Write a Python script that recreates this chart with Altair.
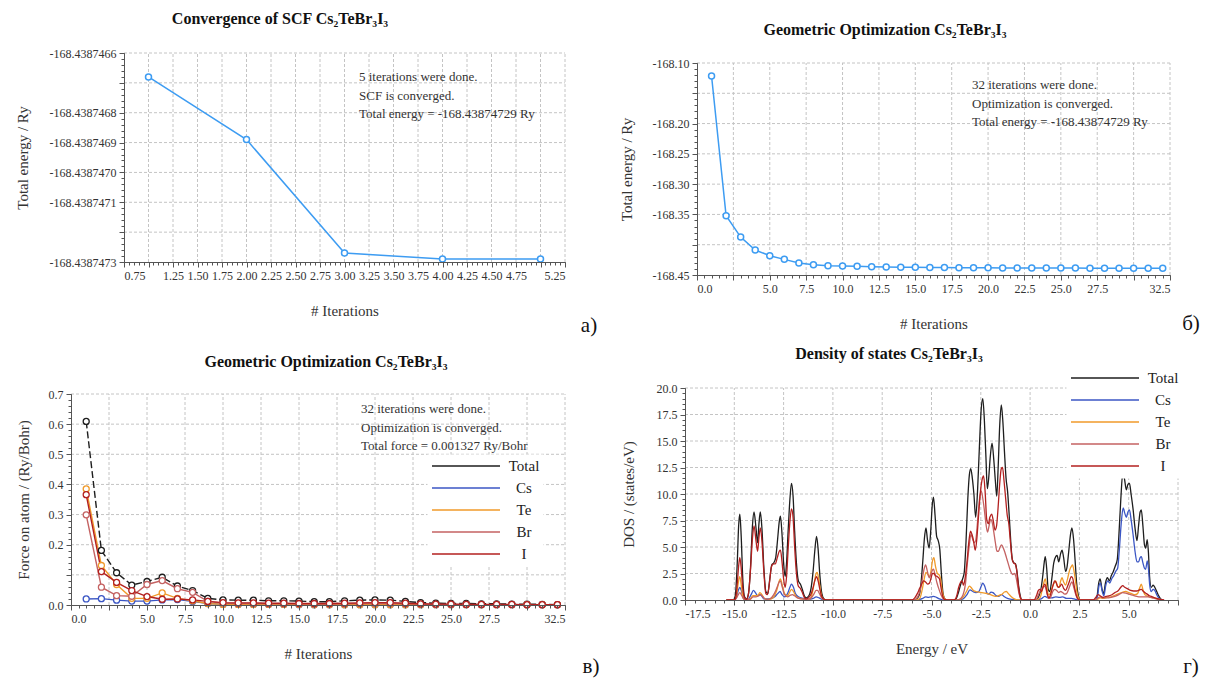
import altair as alt
import pandas as pd

FONT = "Liberation Serif"
INK = "#333333"
DARK = "#111111"
BLUE = "#3d9cf2"
GRID = "#c4c4c4"

SERIES = ["Total", "Cs", "Te", "Br", "I"]
SERIES_COLORS = ["#1e1e1e", "#3b56c4", "#f09a2a", "#c46262", "#b3201f"]
TOTAL_DASH = [7, 3]

# ---------------- panel а : SCF convergence ----------------
SCF_TITLE = "Convergence of SCF Cs₂TeBr₃I₃"
SCF_ITER = [1, 2, 3, 4, 5]
SCF_ENERGY = [-168.43874668, -168.43874689, -168.43874727, -168.43874729, -168.43874729]
SCF_X_TICKS = [0.75, 1.00, 1.25, 1.50, 1.75, 2.00, 2.25, 2.50, 2.75, 3.00,
               3.25, 3.50, 3.75, 4.00, 4.25, 4.50, 4.75, 5.00, 5.25]
SCF_X_HIDDEN = ["1.00", "5.00"]
SCF_Y_TICKS = [-168.4387466, -168.4387467, -168.4387468, -168.4387469,
               -168.4387470, -168.4387471, -168.4387472, -168.4387473]
SCF_Y_HIDDEN = ["-168.4387467", "-168.4387472"]
SCF_NOTE = ["5 iterations were done.", "SCF is converged.", "Total energy = -168.43874729 Ry"]

# ---------------- panel б : geometry optimisation, energy ----------------
OPT_TITLE = "Geometric Optimization Cs₂TeBr₃I₃"
OPT_ITER = [1, 2, 3, 4, 5, 6, 7, 8, 9, 10, 11, 12, 13, 14, 15, 16,
            17, 18, 19, 20, 21, 22, 23, 24, 25, 26, 27, 28, 29, 30, 31, 32]
OPT_ENERGY = [-168.1214, -168.3522, -168.3874, -168.4088, -168.4181, -168.4242,
              -168.4302, -168.4330, -168.4346, -168.4352, -168.4357, -168.4362,
              -168.4366, -168.4370, -168.4373, -168.4376, -168.4378, -168.4380,
              -168.4381, -168.4382, -168.4383, -168.4384, -168.4385, -168.43855,
              -168.4386, -168.43863, -168.43866, -168.43868, -168.4387, -168.43872,
              -168.43873, -168.43874729]
ITER_X_TICKS = [0.0, 2.5, 5.0, 7.5, 10.0, 12.5, 15.0, 17.5, 20.0, 22.5, 25.0, 27.5, 30.0, 32.5]
ITER_X_HIDDEN = ["2.5", "30.0"]
OPT_Y_TICKS = [-168.10, -168.15, -168.20, -168.25, -168.30, -168.35, -168.40, -168.45]
OPT_Y_HIDDEN = ["-168.15", "-168.40"]
OPT_NOTE = ["32 iterations were done.", "Optimization is converged.", "Total energy = -168.43874729 Ry"]

# ---------------- panel в : forces ----------------
FORCE_ITER = OPT_ITER
FORCE_TOTAL = [0.609, 0.181, 0.107, 0.066, 0.078, 0.092, 0.063, 0.048, 0.022, 0.017, 0.016,
               0.016, 0.014, 0.014, 0.013, 0.011, 0.011, 0.014, 0.016, 0.017, 0.016, 0.012,
               0.008, 0.006, 0.005, 0.005, 0.004, 0.004, 0.003, 0.003, 0.002, 0.0013]
FORCE_CS = [0.020, 0.021, 0.016, 0.013, 0.013, 0.017, 0.018, 0.012, 0.005, 0.002, 0.002,
            0.002, 0.002, 0.002, 0.001, 0.001, 0.001, 0.001, 0.001, 0.001, 0.001, 0.001,
            0.001, 0.001, 0.001, 0.001, 0.001, 0.001, 0.001, 0.0005, 0.0005, 0.0005]
FORCE_TE = [0.385, 0.131, 0.068, 0.022, 0.022, 0.040, 0.022, 0.014, 0.005, 0.002, 0.002,
            0.002, 0.002, 0.002, 0.002, 0.001, 0.001, 0.001, 0.001, 0.001, 0.001, 0.001,
            0.001, 0.001, 0.001, 0.001, 0.001, 0.001, 0.001, 0.001, 0.001, 0.001]
FORCE_BR = [0.299, 0.059, 0.031, 0.029, 0.068, 0.081, 0.054, 0.042, 0.012, 0.006, 0.005,
            0.005, 0.004, 0.004, 0.004, 0.003, 0.003, 0.004, 0.005, 0.005, 0.005, 0.004,
            0.003, 0.002, 0.002, 0.002, 0.001, 0.001, 0.001, 0.001, 0.001, 0.001]
FORCE_I = [0.366, 0.111, 0.075, 0.048, 0.028, 0.019, 0.020, 0.017, 0.012, 0.008, 0.007,
           0.007, 0.006, 0.006, 0.005, 0.005, 0.005, 0.006, 0.007, 0.008, 0.008, 0.006,
           0.004, 0.003, 0.003, 0.002, 0.002, 0.002, 0.002, 0.001, 0.001, 0.001]
FORCE_Y_TICKS = [0.0, 0.1, 0.2, 0.3, 0.4, 0.5, 0.6, 0.7]
FORCE_Y_HIDDEN = ["0.1"]
FORCE_NOTE = ["32 iterations were done.", "Optimization is converged.", "Total force = 0.001327 Ry/Bohr"]

# ---------------- panel г : density of states ----------------
DOS_TITLE = "Density of states Cs₂TeBr₃I₃"
DOS_TOTAL = [(-15.4, 0), (-15.05, 0), (-14.95, 0.4), (-14.85, 3.5), (-14.78, 7.0), (-14.72, 8.1),
             (-14.65, 6.0), (-14.57, 2.0), (-14.48, 0.3), (-14.38, 0.1), (-14.28, 0.6), (-14.18, 3.0),
             (-14.08, 7.0), (-14.0, 8.3), (-13.9, 6.8), (-13.82, 5.4), (-13.75, 7.2), (-13.68, 8.3),
             (-13.6, 6.8), (-13.5, 3.0), (-13.4, 0.8), (-13.3, 0.6), (-13.2, 2.0), (-13.1, 3.3),
             (-13.0, 3.5), (-12.9, 4.0), (-12.8, 5.8), (-12.72, 7.4), (-12.66, 7.9), (-12.58, 6.2),
             (-12.5, 3.5), (-12.42, 2.2), (-12.35, 3.5), (-12.27, 6.5), (-12.18, 9.5), (-12.1, 11.0),
             (-12.02, 9.8), (-11.94, 6.5), (-11.85, 3.5), (-11.75, 1.8), (-11.65, 1.5), (-11.55, 1.0),
             (-11.45, 0.4), (-11.35, 0.2), (-11.22, 0.4), (-11.1, 1.2), (-11.0, 2.8), (-10.92, 4.6),
             (-10.83, 6.0), (-10.75, 4.8), (-10.66, 2.3), (-10.56, 0.6), (-10.45, 0.1), (-10.3, 0),
             (-5.9, 0), (-5.7, 0.2), (-5.6, 0.6), (-5.52, 1.8), (-5.44, 3.7), (-5.36, 5.8), (-5.28, 6.8),
             (-5.2, 5.6), (-5.12, 4.9), (-5.04, 6.5), (-4.96, 9.0), (-4.9, 9.7), (-4.82, 8.0),
             (-4.74, 6.0), (-4.66, 5.6), (-4.58, 4.8), (-4.5, 2.5), (-4.42, 0.7), (-4.32, 0.1),
             (-4.2, 0), (-3.8, 0), (-3.65, 0.6), (-3.5, 1.6), (-3.42, 2.0), (-3.34, 2.6), (-3.25, 5.5),
             (-3.16, 9.5), (-3.08, 11.8), (-3.01, 12.4), (-2.93, 11.5), (-2.85, 10.0), (-2.76, 7.8),
             (-2.66, 10.5), (-2.57, 14.5), (-2.48, 18.0), (-2.4, 19.0), (-2.32, 17.0), (-2.24, 13.5),
             (-2.17, 10.5), (-2.1, 11.5), (-2.02, 13.5), (-1.93, 14.8), (-1.84, 13.2), (-1.76, 11.2),
             (-1.69, 9.8), (-1.62, 12.5), (-1.54, 16.5), (-1.46, 18.4), (-1.38, 16.8), (-1.3, 14.0),
             (-1.22, 11.5), (-1.14, 10.2), (-1.06, 8.0), (-0.98, 5.5), (-0.9, 3.8), (-0.82, 3.5),
             (-0.74, 3.4), (-0.66, 2.6), (-0.58, 1.3), (-0.5, 0.4), (-0.4, 0), (0.3, 0), (0.45, 0.4),
             (0.55, 1.0), (0.65, 2.4), (0.72, 3.6), (0.77, 4.1), (0.84, 3.0), (0.92, 1.0), (1.0, 0.8),
             (1.1, 2.0), (1.2, 3.5), (1.3, 4.1), (1.37, 4.2), (1.45, 3.6), (1.55, 4.4), (1.62, 4.7),
             (1.7, 4.0), (1.8, 2.7), (1.88, 3.2), (1.96, 4.6), (2.05, 6.2), (2.12, 6.8), (2.2, 5.8),
             (2.28, 3.8), (2.36, 1.6), (2.45, 0.4), (2.55, 0), (3.3, 0), (3.4, 0.4), (3.48, 1.6),
             (3.55, 2.0), (3.65, 1.0), (3.73, 0.6), (3.82, 1.6), (3.92, 2.1), (4.02, 1.8), (4.12, 2.3),
             (4.22, 2.7), (4.32, 3.2), (4.42, 3.8), (4.5, 6.0), (4.6, 9.5), (4.7, 12.0), (4.78, 11.5),
             (4.88, 10.4), (4.96, 10.9), (5.04, 11.0), (5.12, 10.0), (5.22, 8.6), (5.32, 6.8),
             (5.42, 5.6), (5.5, 7.0), (5.58, 8.3), (5.64, 8.5), (5.72, 7.0), (5.8, 5.2), (5.86, 4.9),
             (5.94, 5.7), (6.0, 4.5), (6.06, 2.2), (6.14, 1.2), (6.24, 1.4), (6.32, 1.2), (6.42, 0.8),
             (6.52, 0.4), (6.62, 0.1), (6.75, 0)]
DOS_CS = [(-15.4, 0), (-15.0, 0), (-14.9, 0.2), (-14.8, 0.9), (-14.72, 1.2), (-14.63, 0.8),
          (-14.52, 0.1), (-14.3, 0.05), (-14.15, 0.5), (-14.03, 0.9), (-13.93, 0.7), (-13.82, 0.4),
          (-13.72, 0.5), (-13.62, 0.4), (-13.5, 0.1), (-13.2, 0.1), (-12.95, 0.3), (-12.8, 0.6),
          (-12.68, 0.8), (-12.58, 0.5), (-12.45, 0.3), (-12.3, 0.6), (-12.18, 1.2), (-12.1, 1.5),
          (-12.0, 1.2), (-11.9, 0.6), (-11.75, 0.3), (-11.5, 0.15), (-11.2, 0.05), (-11.0, 0.15),
          (-10.85, 0.3), (-10.7, 0.2), (-10.5, 0.02), (-10.3, 0), (-5.8, 0), (-5.6, 0.05),
          (-5.45, 0.15), (-5.3, 0.3), (-5.15, 0.25), (-5.0, 0.3), (-4.9, 0.35), (-4.75, 0.25),
          (-4.6, 0.1), (-4.45, 0.02), (-4.3, 0), (-3.6, 0), (-3.4, 0.1), (-3.2, 0.5), (-3.05, 0.95),
          (-2.9, 0.8), (-2.75, 0.7), (-2.6, 0.8), (-2.48, 1.3), (-2.4, 1.6), (-2.3, 1.3), (-2.2, 0.7),
          (-2.1, 0.55), (-1.98, 0.75), (-1.88, 0.7), (-1.75, 0.45), (-1.6, 0.35), (-1.45, 0.5),
          (-1.3, 0.3), (-1.15, 0.15), (-0.9, 0.05), (-0.6, 0), (0.3, 0), (0.55, 0.1), (0.75, 0.35),
          (0.9, 0.2), (1.1, 0.2), (1.3, 0.3), (1.5, 0.25), (1.65, 0.3), (1.85, 0.15), (2.1, 0.15),
          (2.3, 0.05), (2.5, 0), (3.3, 0), (3.42, 0.4), (3.5, 1.4), (3.56, 1.6), (3.66, 0.8),
          (3.74, 0.4), (3.84, 1.4), (3.94, 1.8), (4.04, 1.6), (4.14, 2.0), (4.24, 2.3), (4.34, 2.7),
          (4.44, 3.0), (4.52, 4.6), (4.62, 7.2), (4.72, 8.7), (4.8, 8.2), (4.88, 7.8), (4.96, 8.3),
          (5.04, 8.5), (5.12, 7.6), (5.22, 6.2), (5.32, 4.6), (5.42, 3.6), (5.5, 3.6), (5.58, 4.0),
          (5.64, 4.1), (5.72, 3.5), (5.8, 3.0), (5.86, 2.9), (5.94, 3.7), (6.0, 3.0), (6.06, 1.5),
          (6.14, 0.8), (6.24, 1.0), (6.32, 0.9), (6.42, 0.5), (6.52, 0.2), (6.62, 0.05), (6.75, 0)]
DOS_TE = [(-15.4, 0), (-15.0, 0), (-14.9, 0.3), (-14.8, 1.6), (-14.72, 2.2), (-14.64, 1.3),
          (-14.55, 0.2), (-14.4, 0), (-14.2, 0.1), (-14.05, 0.4), (-13.9, 0.4), (-13.78, 0.5),
          (-13.7, 0.7), (-13.6, 0.5), (-13.45, 0.1), (-13.2, 0.05), (-13.0, 0.3), (-12.85, 0.9),
          (-12.72, 1.8), (-12.66, 2.0), (-12.58, 1.5), (-12.45, 0.6), (-12.3, 0.4), (-12.18, 0.8),
          (-12.1, 1.0), (-12.0, 0.8), (-11.85, 0.3), (-11.6, 0.1), (-11.2, 0.05), (-11.05, 0.6),
          (-10.95, 1.6), (-10.85, 2.5), (-10.8, 2.6), (-10.72, 2.0), (-10.62, 0.8), (-10.5, 0.1),
          (-10.3, 0), (-5.8, 0), (-5.6, 0.15), (-5.48, 0.9), (-5.38, 1.9), (-5.28, 2.6), (-5.18, 2.4),
          (-5.1, 2.2), (-5.02, 2.8), (-4.95, 3.7), (-4.88, 4.0), (-4.8, 3.2), (-4.7, 2.5),
          (-4.62, 2.4), (-4.54, 2.0), (-4.46, 0.9), (-4.36, 0.2), (-4.25, 0), (-3.7, 0), (-3.5, 0.1),
          (-3.35, 0.4), (-3.2, 0.9), (-3.08, 1.3), (-3.0, 1.2), (-2.9, 0.95), (-2.75, 0.8),
          (-2.6, 0.75), (-2.45, 0.7), (-2.3, 0.65), (-2.15, 0.6), (-2.0, 0.5), (-1.85, 0.4),
          (-1.7, 0.35), (-1.55, 0.45), (-1.42, 0.55), (-1.3, 0.75), (-1.2, 0.8), (-1.1, 0.6),
          (-0.95, 0.3), (-0.8, 0.1), (-0.6, 0), (0.3, 0), (0.5, 0.2), (0.62, 1.0), (0.72, 1.8),
          (0.77, 2.0), (0.85, 1.2), (0.93, 0.5), (1.02, 0.6), (1.12, 1.2), (1.22, 1.6), (1.3, 1.8),
          (1.38, 1.3), (1.47, 1.2), (1.55, 1.8), (1.62, 2.1), (1.7, 1.7), (1.8, 1.4), (1.9, 2.0),
          (2.0, 2.8), (2.1, 3.2), (2.15, 3.3), (2.22, 2.8), (2.3, 1.8), (2.38, 0.7), (2.47, 0.15),
          (2.55, 0), (3.3, 0), (3.45, 0.1), (3.55, 0.2), (3.7, 0.15), (3.9, 0.25), (4.1, 0.3),
          (4.3, 0.45), (4.5, 0.6), (4.7, 0.75), (4.85, 0.8), (5.0, 0.7), (5.15, 0.6), (5.3, 0.5),
          (5.45, 0.6), (5.55, 1.1), (5.64, 1.5), (5.72, 1.0), (5.82, 0.5), (5.95, 0.35), (6.1, 0.25),
          (6.3, 0.2), (6.5, 0.1), (6.7, 0)]
DOS_BR = [(-15.4, 0), (-15.0, 0), (-14.9, 0.15), (-14.8, 0.5), (-14.72, 0.7), (-14.62, 0.4),
          (-14.5, 0.05), (-14.2, 0.05), (-14.05, 0.3), (-13.9, 0.3), (-13.75, 0.4), (-13.68, 0.5),
          (-13.55, 0.3), (-13.4, 0.05), (-13.2, 0.1), (-13.0, 0.5), (-12.85, 1.1), (-12.72, 1.7),
          (-12.66, 1.8), (-12.58, 1.3), (-12.45, 0.5), (-12.3, 0.3), (-12.15, 0.45), (-12.05, 0.5),
          (-11.95, 0.4), (-11.8, 0.2), (-11.6, 0.1), (-11.3, 0.05), (-11.1, 0.2), (-10.95, 0.6),
          (-10.85, 0.9), (-10.78, 0.9), (-10.68, 0.6), (-10.55, 0.15), (-10.4, 0), (-5.9, 0),
          (-5.7, 0.3), (-5.58, 0.9), (-5.48, 1.8), (-5.38, 2.9), (-5.3, 3.3), (-5.22, 2.8),
          (-5.12, 2.1), (-5.04, 2.4), (-4.96, 2.8), (-4.9, 2.9), (-4.82, 2.4), (-4.72, 1.6),
          (-4.62, 1.0), (-4.52, 0.5), (-4.42, 0.15), (-4.3, 0), (-3.7, 0), (-3.55, 0.1), (-3.4, 0.5),
          (-3.28, 1.5), (-3.18, 3.5), (-3.08, 5.2), (-3.0, 6.2), (-2.92, 5.8), (-2.84, 5.4),
          (-2.76, 5.6), (-2.66, 7.5), (-2.56, 9.6), (-2.48, 10.3), (-2.4, 9.6), (-2.32, 8.5),
          (-2.24, 7.2), (-2.16, 6.4), (-2.08, 7.0), (-2.0, 7.6), (-1.92, 7.3), (-1.84, 6.4),
          (-1.76, 5.4), (-1.68, 4.6), (-1.6, 4.6), (-1.52, 5.0), (-1.44, 5.2), (-1.36, 4.9),
          (-1.28, 4.5), (-1.2, 4.0), (-1.12, 3.5), (-1.04, 3.0), (-0.96, 2.6), (-0.88, 2.4),
          (-0.8, 2.5), (-0.72, 2.2), (-0.64, 1.4), (-0.56, 0.6), (-0.48, 0.15), (-0.38, 0), (0.3, 0),
          (0.4, 0.4), (0.5, 0.8), (0.6, 1.1), (0.7, 1.3), (0.78, 1.2), (0.86, 0.6), (0.95, 0.15),
          (1.05, 0.3), (1.15, 0.8), (1.25, 1.0), (1.35, 0.9), (1.45, 0.7), (1.55, 0.8), (1.65, 0.7),
          (1.75, 0.55), (1.85, 0.6), (1.95, 1.0), (2.05, 1.5), (2.12, 1.7), (2.2, 1.3), (2.3, 0.6),
          (2.4, 0.15), (2.5, 0), (3.3, 0), (3.45, 0.2), (3.55, 0.3), (3.7, 0.2), (3.9, 0.2),
          (4.1, 0.25), (4.3, 0.35), (4.5, 0.5), (4.7, 0.7), (4.85, 0.65), (5.0, 0.55), (5.2, 0.45),
          (5.4, 0.35), (5.6, 0.3), (5.8, 0.3), (6.0, 0.3), (6.2, 0.2), (6.4, 0.1), (6.6, 0.02),
          (6.75, 0)]
DOS_I = [(-15.4, 0), (-15.0, 0), (-14.92, 0.3), (-14.84, 1.8), (-14.77, 3.4), (-14.72, 4.0),
         (-14.66, 3.2), (-14.58, 1.3), (-14.48, 0.2), (-14.38, 0.05), (-14.28, 0.6), (-14.18, 2.8),
         (-14.08, 5.8), (-14.0, 7.0), (-13.9, 5.6), (-13.82, 4.6), (-13.75, 5.9), (-13.68, 6.8),
         (-13.6, 5.6), (-13.5, 2.6), (-13.4, 0.6), (-13.32, 0.5), (-13.22, 1.6), (-13.12, 3.1),
         (-13.02, 3.4), (-12.92, 3.4), (-12.82, 4.0), (-12.72, 4.6), (-12.66, 4.7), (-12.58, 3.6),
         (-12.5, 2.0), (-12.42, 1.2), (-12.35, 2.2), (-12.27, 4.8), (-12.18, 7.4), (-12.1, 8.6),
         (-12.02, 7.8), (-11.94, 5.0), (-11.85, 2.5), (-11.75, 1.3), (-11.65, 1.1), (-11.55, 0.7),
         (-11.45, 0.25), (-11.35, 0.1), (-11.22, 0.25), (-11.1, 0.6), (-11.0, 1.2), (-10.92, 1.8),
         (-10.83, 2.2), (-10.75, 1.8), (-10.66, 1.0), (-10.56, 0.3), (-10.45, 0.05), (-10.3, 0),
         (-6.0, 0), (-5.85, 0.2), (-5.72, 0.6), (-5.6, 1.1), (-5.5, 1.5), (-5.4, 1.8), (-5.3, 1.7),
         (-5.2, 1.5), (-5.1, 1.6), (-5.02, 2.1), (-4.95, 2.5), (-4.88, 2.5), (-4.8, 2.3), (-4.7, 2.2),
         (-4.6, 2.0), (-4.52, 1.2), (-4.44, 0.4), (-4.34, 0.05), (-4.2, 0), (-3.85, 0), (-3.72, 0.4),
         (-3.62, 1.2), (-3.52, 1.7), (-3.45, 1.8), (-3.38, 1.4), (-3.3, 2.0), (-3.2, 3.6), (-3.1, 5.6),
         (-3.02, 6.5), (-2.95, 6.2), (-2.87, 5.6), (-2.78, 4.7), (-2.7, 5.8), (-2.62, 7.8),
         (-2.52, 10.2), (-2.44, 11.3), (-2.36, 11.7), (-2.28, 10.2), (-2.2, 7.6), (-2.12, 7.2),
         (-2.04, 7.8), (-1.95, 8.1), (-1.86, 7.4), (-1.78, 6.6), (-1.7, 7.0), (-1.62, 8.8),
         (-1.54, 11.0), (-1.46, 12.4), (-1.4, 12.5), (-1.32, 11.2), (-1.24, 9.6), (-1.16, 8.0),
         (-1.08, 7.2), (-1.0, 5.5), (-0.92, 4.0), (-0.84, 3.5), (-0.76, 3.4), (-0.68, 2.8),
         (-0.6, 1.4), (-0.52, 0.4), (-0.42, 0), (0.2, 0), (0.32, 0.4), (0.42, 0.9), (0.5, 1.0),
         (0.58, 0.8), (0.66, 1.2), (0.74, 1.5), (0.8, 1.3), (0.88, 0.5), (0.96, 0.2), (1.05, 0.6),
         (1.15, 1.3), (1.25, 1.8), (1.33, 1.6), (1.42, 1.2), (1.52, 1.3), (1.6, 1.5), (1.7, 1.1),
         (1.8, 0.9), (1.9, 1.3), (2.0, 1.8), (2.08, 2.2), (2.15, 2.1), (2.25, 1.2), (2.35, 0.4),
         (2.45, 0.05), (2.55, 0), (3.2, 0), (3.35, 0.3), (3.45, 0.5), (3.55, 0.4), (3.7, 0.25),
         (3.85, 0.35), (4.0, 0.4), (4.15, 0.5), (4.3, 0.7), (4.45, 0.85), (4.6, 1.2), (4.7, 1.35),
         (4.8, 1.2), (4.95, 1.05), (5.1, 0.9), (5.25, 0.85), (5.4, 0.85), (5.55, 0.95), (5.64, 1.0),
         (5.75, 0.8), (5.9, 0.6), (6.05, 0.4), (6.2, 0.3), (6.4, 0.15), (6.6, 0.05), (6.8, 0)]
DOS_X_TICKS = [-17.5, -15.0, -12.5, -10.0, -7.5, -5.0, -2.5, 0.0, 2.5, 5.0, 7.5]
DOS_X_HIDDEN = ["7.5"]
DOS_Y_TICKS = [0.0, 2.5, 5.0, 7.5, 10.0, 12.5, 15.0, 17.5, 20.0]
DOS_Y_HIDDEN = []


# ---------------- helpers ----------------
def label_expr(hidden):
    fixed = "replace(datum.label, '\u2212', '-')"
    arr = "[" + ", ".join("'" + h + "'" for h in hidden) + "]"
    return "indexof(" + arr + ", " + fixed + ") >= 0 ? '' : " + fixed


AXIS_TEXT = dict(labelFont=FONT, labelFontSize=12, labelColor=INK, titleFont=FONT,
                 titleFontSize=15, titleFontWeight="normal", titleColor=INK)


def x_axis(values, fmt, hidden, title, title_x):
    return alt.Axis(orient="bottom", values=values, format=fmt, labelExpr=label_expr(hidden),
                    title=title, titleX=title_x, titleY=48, titleBaseline="middle",
                    titleAlign="center", grid=False, tickSize=5, zindex=1, **AXIS_TEXT)


def y_axis(values, fmt, hidden, title, title_x, title_y, offset):
    return alt.Axis(orient="left", values=values, format=fmt, labelExpr=label_expr(hidden),
                    title=title, titleX=title_x, titleY=title_y, titleAngle=270,
                    titleBaseline="middle", titleAlign="center", grid=False, tickSize=5,
                    offset=offset, zindex=1, **AXIS_TEXT)


def minor_axis(orient, values, offset=0):
    return alt.Axis(orient=orient, values=values, labels=False, grid=False, domain=False,
                    tickSize=3, title=None, offset=offset, zindex=1)


def steps(start, stop, step, nd):
    n = int(round((stop - start) / step))
    return [round(start + k * step, nd) for k in range(n + 1)]


def one_row():
    return pd.DataFrame({"k": [0]})


def text_layer(lines, x, y, size, weight="normal", align="left", color=INK, line_height=0):
    props = dict(font=FONT, fontSize=size, fontWeight=weight, align=align,
                 baseline="middle", color=color)
    if line_height:
        props["lineHeight"] = line_height
    return alt.Chart(one_row()).mark_text(**props).encode(
        x=alt.value(x), y=alt.value(y), text=alt.value(lines))


def grid_layers(xs, ys, xticks, yticks, xdom, ydom):
    vdf = pd.DataFrame({"t": [t for t in xticks if t != xdom[0]]})
    vdf["lo"], vdf["hi"] = ydom[0], ydom[1]
    hdf = pd.DataFrame({"t": [t for t in yticks if t != ydom[0]]})
    hdf["lo"], hdf["hi"] = xdom[0], xdom[1]
    style = dict(color=GRID, strokeDash=[3, 2], strokeWidth=1)
    v = alt.Chart(vdf).mark_rule(**style).encode(
        x=alt.X("t:Q", scale=xs, axis=None), y=alt.Y("lo:Q", scale=ys, axis=None), y2="hi:Q")
    h = alt.Chart(hdf).mark_rule(**style).encode(
        y=alt.Y("t:Q", scale=ys, axis=None), x=alt.X("lo:Q", scale=xs, axis=None), x2="hi:Q")
    return [v, h]


def legend(lx, ly):
    return alt.Legend(title=None, orient="none", legendX=lx, legendY=ly,
                      symbolType="M-7,0H61", symbolSize=4, symbolStrokeWidth=1.6,
                      symbolFillColor="transparent", labelFont=FONT, labelFontSize=15,
                      labelColor="#222222", labelAlign="center", labelOffset=77.5,
                      rowPadding=6, padding=4, fillColor="white")


def series_color(lg):
    return alt.Color("series:N", scale=alt.Scale(domain=SERIES, range=SERIES_COLORS), legend=lg)


# Every panel cell is laid out on a 2x2 grid; the plot rectangle inside a cell is
# placed with the scale ranges so that the four panels line up with the reference.
def energy_panel(iters, energy, xdom, ydom, xt, xfmt, xh, yt, yfmt, yh, ytitle_x,
                 xminor, yminor, w, h, x0, y0, title, tx, ty, note, nx, ny, tag, gx, gy):
    xs = alt.Scale(domain=xdom, range=[x0, w], nice=False, zero=False)
    ys = alt.Scale(domain=ydom, range=[h, y0], nice=False, zero=False)
    df = pd.DataFrame({"iter": iters, "energy": energy})
    base = alt.Chart(df)
    line = base.mark_line(color=BLUE, strokeWidth=1.5).encode(
        x=alt.X("iter:Q", scale=xs, axis=x_axis(xt, xfmt, xh, "# Iterations", (x0 + w) / 2)),
        y=alt.Y("energy:Q", scale=ys,
                axis=y_axis(yt, yfmt, yh, "Total energy / Ry", ytitle_x, (y0 + h) / 2, -x0)))
    pts = base.mark_point(shape="circle", filled=True, fill="white", stroke=BLUE,
                          strokeWidth=1.5, size=36, opacity=1).encode(
        x=alt.X("iter:Q", scale=xs, axis=None), y=alt.Y("energy:Q", scale=ys, axis=None))
    minor = base.mark_point(opacity=0).encode(
        x=alt.X("iter:Q", scale=xs, axis=minor_axis("bottom", xminor)),
        y=alt.Y("energy:Q", scale=ys, axis=minor_axis("left", yminor, -x0)))
    return alt.layer(
        *grid_layers(xs, ys, xt, yt, xdom, ydom),
        line, pts, minor,
        text_layer(note, nx, ny, 13, line_height=18.5),
        text_layer(title, tx, ty, 16, weight="bold", align="center", color=DARK),
        text_layer(tag, gx, gy, 21, align="center", color=DARK),
    ).properties(width=w, height=h).resolve_axis(x="independent", y="independent")


# ---------------- panel а ----------------
panel_a = energy_panel(
    SCF_ITER, SCF_ENERGY, [0.75, 5.25], [SCF_Y_TICKS[-1], SCF_Y_TICKS[0]],
    SCF_X_TICKS, ".2f", SCF_X_HIDDEN, SCF_Y_TICKS, ".7f", SCF_Y_HIDDEN, -102,
    steps(0.75, 5.25, 0.05, 2), steps(-168.4387473, -168.4387466, 2e-8, 10),
    494, 209, 53, 0, SCF_TITLE, 209, -34, SCF_NOTE, 288, 24, "а)", 518, 273)

# ---------------- panel б ----------------
panel_b = energy_panel(
    OPT_ITER, OPT_ENERGY, [0, 32.5], [-168.45, -168.10],
    ITER_X_TICKS, ".1f", ITER_X_HIDDEN, OPT_Y_TICKS, ".2f", OPT_Y_HIDDEN, -71,
    steps(0, 32.5, 0.5, 1), steps(-168.45, -168.10, 0.01, 2),
    485, 222, 12, 10, OPT_TITLE, 200, -23, OPT_NOTE, 287, 32, "б)", 506, 271)

# ---------------- panel в ----------------
C_W, C_H, C_Y0 = 494, 217, 6
rows = []
for name, vals in zip(SERIES, [FORCE_TOTAL, FORCE_CS, FORCE_TE, FORCE_BR, FORCE_I]):
    for it, v in zip(FORCE_ITER, vals):
        rows.append({"series": name, "iter": it, "force": v})
df_c = pd.DataFrame(rows)
xs_c = alt.Scale(domain=[0, 32.5], range=[0, C_W], nice=False, zero=False)
ys_c = alt.Scale(domain=[0, 0.7], range=[C_H, C_Y0], nice=False, zero=False)
total_c = alt.Chart(df_c[df_c["series"] == "Total"]).mark_line(
    strokeWidth=1.4, strokeDash=TOTAL_DASH, color=SERIES_COLORS[0]).encode(
    x=alt.X("iter:Q", scale=xs_c, axis=None),
    y=alt.Y("force:Q", scale=ys_c, axis=None),
)
line_c = alt.Chart(df_c[df_c["series"] != "Total"]).mark_line(strokeWidth=1.4).encode(
    x=alt.X("iter:Q", scale=xs_c, axis=x_axis(ITER_X_TICKS, ".1f", ITER_X_HIDDEN, "# Iterations", C_W / 2)),
    y=alt.Y("force:Q", scale=ys_c, axis=y_axis(FORCE_Y_TICKS, ".1f", FORCE_Y_HIDDEN,
                                                 "Force on atom / (Ry/Bohr)", -48,
                                                 (C_H + C_Y0) / 2, 0)),
    color=series_color(legend(356.5, 66.5)),
)
pts_c = alt.Chart(df_c).mark_point(shape="circle", filled=True, fill="white", strokeWidth=1.3,
                                   size=36, opacity=1).encode(
    x=alt.X("iter:Q", scale=xs_c, axis=None),
    y=alt.Y("force:Q", scale=ys_c, axis=None),
    stroke=alt.Stroke("series:N", scale=alt.Scale(domain=SERIES, range=SERIES_COLORS), legend=None),
)
minor_c = alt.Chart(df_c).mark_point(opacity=0).encode(
    x=alt.X("iter:Q", scale=xs_c, axis=minor_axis("bottom", steps(0, 32.5, 0.5, 1))),
    y=alt.Y("force:Q", scale=ys_c, axis=minor_axis("left", steps(0, 0.7, 0.02, 2))),
)
panel_c = alt.layer(
    *grid_layers(xs_c, ys_c, ITER_X_TICKS, FORCE_Y_TICKS, [0, 32.5], [0, 0.7]),
    total_c, line_c, pts_c, minor_c,
    text_layer(FORCE_NOTE, 290, 21, 13, line_height=18.5),
    text_layer(OPT_TITLE, 255, -26, 16, weight="bold", align="center", color=DARK),
    text_layer("в)", 520, 279, 21, align="center", color=DARK),
).properties(width=C_W, height=C_H).resolve_axis(x="independent", y="independent")

# ---------------- panel г ----------------
D_W, D_H = 493, 212
rows = []
for name, pairs in zip(SERIES, [DOS_TOTAL, DOS_CS, DOS_TE, DOS_BR, DOS_I]):
    for e, v in pairs:
        rows.append({"series": name, "energy": e, "dos": v})
df_d = pd.DataFrame(rows)
xs_d = alt.Scale(domain=[-17.5, 7.5], range=[0, D_W], nice=False, zero=False)
ys_d = alt.Scale(domain=[0, 20], range=[D_H, 0], nice=False, zero=False)
base_d = alt.Chart(df_d)
line_d = base_d.mark_line(strokeWidth=1.3, interpolate="monotone").encode(
    x=alt.X("energy:Q", scale=xs_d, axis=x_axis(DOS_X_TICKS, ".1f", DOS_X_HIDDEN, "Energy / eV", D_W / 2)),
    y=alt.Y("dos:Q", scale=ys_d, axis=y_axis(DOS_Y_TICKS, ".1f", DOS_Y_HIDDEN,
                                             "DOS / (states/eV)", -57, D_H / 2, 0)),
    color=series_color(legend(381.5, -21.5)),
)
minor_d = base_d.mark_point(opacity=0).encode(
    x=alt.X("energy:Q", scale=xs_d, axis=minor_axis("bottom", steps(-17.5, 7.5, 0.5, 1))),
    y=alt.Y("dos:Q", scale=ys_d, axis=minor_axis("left", steps(0, 20, 0.5, 1))),
)
panel_d = alt.layer(
    *grid_layers(xs_d, ys_d, DOS_X_TICKS, DOS_Y_TICKS, [-17.5, 7.5], [0, 20]),
    line_d, minor_d,
    text_layer(DOS_TITLE, 204, -34, 16, weight="bold", align="center", color=DARK),
    text_layer("г)", 506, 279, 21, align="center", color=DARK),
).properties(width=D_W, height=D_H).resolve_axis(x="independent", y="independent")

# ---------------- grid ----------------
chart = alt.concat(
    panel_a, panel_b, panel_c, panel_d,
    columns=2, spacing={"row": 113, "column": 120}, bounds="flush",
).resolve_scale(
    color="independent", stroke="independent"
).properties(
    padding={"left": 6, "top": 2, "right": 0, "bottom": 0}, background="white"
).configure(font=FONT).configure_view(stroke="transparent").configure_axis(
    domainColor="#555555", tickColor="#555555", labelPadding=3,
)

chart.save("out.html", embed_options={"renderer": "svg", "actions": False})
